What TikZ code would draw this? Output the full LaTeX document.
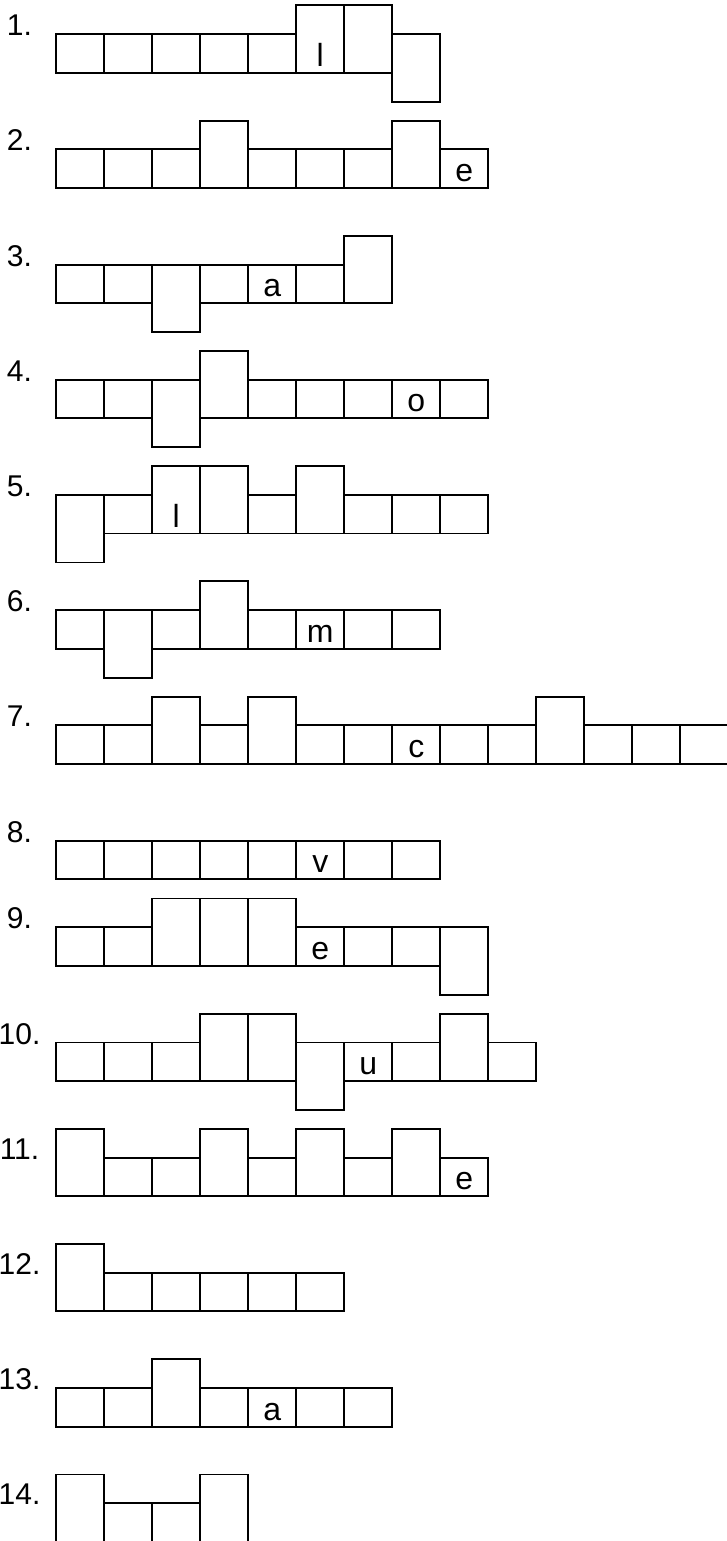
\documentclass[tikz,border=0pt]{standalone}
\usepackage{fontspec}
\setmainfont{Liberation Sans}
% height of each kind of box: n = plain, t = tall, d = hanging down
\def\boxtopn{38.5}\def\boxhtn{38.5}
\def\boxtopt{67.3}\def\boxhtt{67.3}
\def\boxtopd{38.5}\def\boxhtd{67.5}
\tikzset{
  numlabel/.style={anchor=base, inner sep=0pt, font=\fontsize{22.5}{22.5}\selectfont},
  letter/.style={anchor=base, inner sep=0pt, font=\fontsize{24}{24}\selectfont}
}
% #1 number, #2 bottom line, #3 boxes, #4 given letters (box/letter)
\newcommand{\wordrow}[4]{%
  \node[numlabel] (n#1) at (19.5,#2-37) {#1.};
  \foreach \t [count=\k] in {#3}
    \draw (8.3+48*\k,#2-\csname boxtop\t\endcsname) rectangle ++(48,\csname boxht\t\endcsname);
  \ifx\relax#4\relax\else
  \foreach \k/\c in {#4}
    \node[letter] (r#1\c) at (32.3+48*\k,#2-6.5) {\c};
  \fi
}
\begin{document}
\begin{tikzpicture}[x=0.75pt, y=-0.75pt, line width=1.4pt]
	\useasboundingbox (0,0) rectangle (726,1541);
	\wordrow{1}{72.7}{n,n,n,n,n,t,t,d}{6/l}
	\wordrow{2}{187.9}{n,n,n,t,n,n,n,t,n}{9/e}
	\wordrow{3}{303.1}{n,n,d,n,n,n,t}{5/a}
	\wordrow{4}{418.3}{n,n,d,t,n,n,n,n,n}{8/o}
	\wordrow{5}{533.5}{d,n,t,t,n,t,n,n,n}{3/l}
	\wordrow{6}{648.7}{n,d,n,t,n,n,n,n}{6/m}
	\wordrow{7}{763.9}{n,n,t,n,t,n,n,n,n,n,t,n,n,n}{8/c}
	\wordrow{8}{879.1}{n,n,n,n,n,n,n,n}{6/v}
	\wordrow{9}{965.8}{n,n,t,t,t,n,n,n,d}{6/e}
	\wordrow{10}{1081.0}{n,n,n,t,t,d,n,n,t,n}{7/u}
	\wordrow{11}{1196.2}{t,n,n,t,n,t,n,t,n}{9/e}
	\wordrow{12}{1311.4}{t,n,n,n,n,n}{}
	\wordrow{13}{1426.6}{n,n,t,n,n,n,n}{5/a}
	\wordrow{14}{1541.8}{t,n,n,t}{}
\end{tikzpicture}
\end{document}
